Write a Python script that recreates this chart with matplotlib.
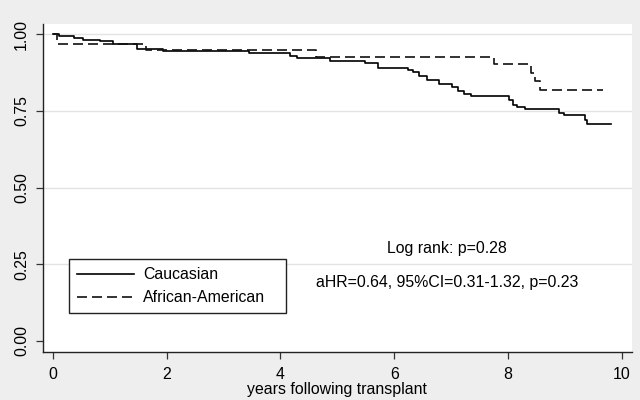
import matplotlib.pyplot as plt

plt.rcParams['font.family'] = ['Liberation Sans', 'DejaVu Sans']

# Kaplan-Meier steps
cauc_t = [0, 0.11, 0.37, 0.52, 0.83, 1.06, 1.47, 1.93, 3.44, 4.16, 4.29, 4.87,
          5.49, 5.71, 6.24, 6.34, 6.43, 6.58, 6.79, 7.01, 7.12, 7.22, 7.35,
          8.02, 8.09, 8.16, 8.31, 8.90, 8.99, 9.35, 9.40, 9.81]
cauc_s = [1.0, 0.995, 0.989, 0.982, 0.976, 0.968, 0.953, 0.944, 0.938, 0.929,
          0.921, 0.914, 0.905, 0.891, 0.884, 0.875, 0.864, 0.851, 0.837, 0.829,
          0.816, 0.805, 0.797, 0.786, 0.770, 0.762, 0.757, 0.742, 0.737, 0.721,
          0.708, 0.708]

afam_t = [0, 0.07, 1.63, 4.63, 7.75, 8.40, 8.48, 8.57, 9.67]
afam_s = [1.0, 0.967, 0.948, 0.927, 0.902, 0.872, 0.846, 0.819, 0.819]

xticks = [0, 2, 4, 6, 8, 10]
yticks = [0.0, 0.25, 0.5, 0.75, 1.0]
ylabels = ['0.00', '0.25', '0.50', '0.75', '1.00']

fs = 11.4
bg = '#eeeeee'
fig = plt.figure(figsize=(6.4, 4.0), dpi=100, facecolor=bg)
ax = fig.add_axes([0.0672, 0.12, 0.920, 0.82])
ax.set_facecolor('white')

for y in yticks[1:]:
    ax.axhline(y, color='#e3e3e3', lw=1.0, zorder=0)

ax.plot(cauc_t, cauc_s, drawstyle='steps-post', color='black', lw=1.2,
        label='Caucasian')
ax.plot(afam_t, afam_s, drawstyle='steps-post', color='#111111', lw=1.2,
        dashes=(6, 3), label='African-American')

ax.set_xlim(-0.176, 10.18)
ax.set_ylim(-0.036, 1.033)
ax.set_xticks(xticks)
ax.set_yticks(yticks)
ax.set_yticklabels(ylabels, rotation=90, va='center')
ax.tick_params(labelsize=fs, length=5, width=0.9, color='#333333')
ax.tick_params(axis='y', pad=5)
ax.tick_params(axis='x', pad=5.5)

for s in ['top', 'right']:
    ax.spines[s].set_visible(False)
for s in ['left', 'bottom']:
    ax.spines[s].set_linewidth(1.0)
    ax.spines[s].set_color('#222222')

ax.set_xlabel('years following transplant', fontsize=fs, labelpad=0)

leg = ax.legend(loc='lower left', bbox_to_anchor=(0.044, 0.119, 0.369, 0.16),
                mode='expand', fontsize=fs, fancybox=False, framealpha=1,
                edgecolor='#222222', handlelength=3.6, handletextpad=0.6,
                borderpad=0.5, labelspacing=0.5, borderaxespad=0)
leg.get_frame().set_linewidth(1.0)

ax.text(6.92, 0.30, 'Log rank: p=0.28', ha='center', va='center', fontsize=fs)
ax.text(6.94, 0.192, 'aHR=0.64, 95%CI=0.31-1.32, p=0.23', ha='center',
        va='center', fontsize=fs)

fig.savefig('out.png', dpi=100, facecolor=bg)
